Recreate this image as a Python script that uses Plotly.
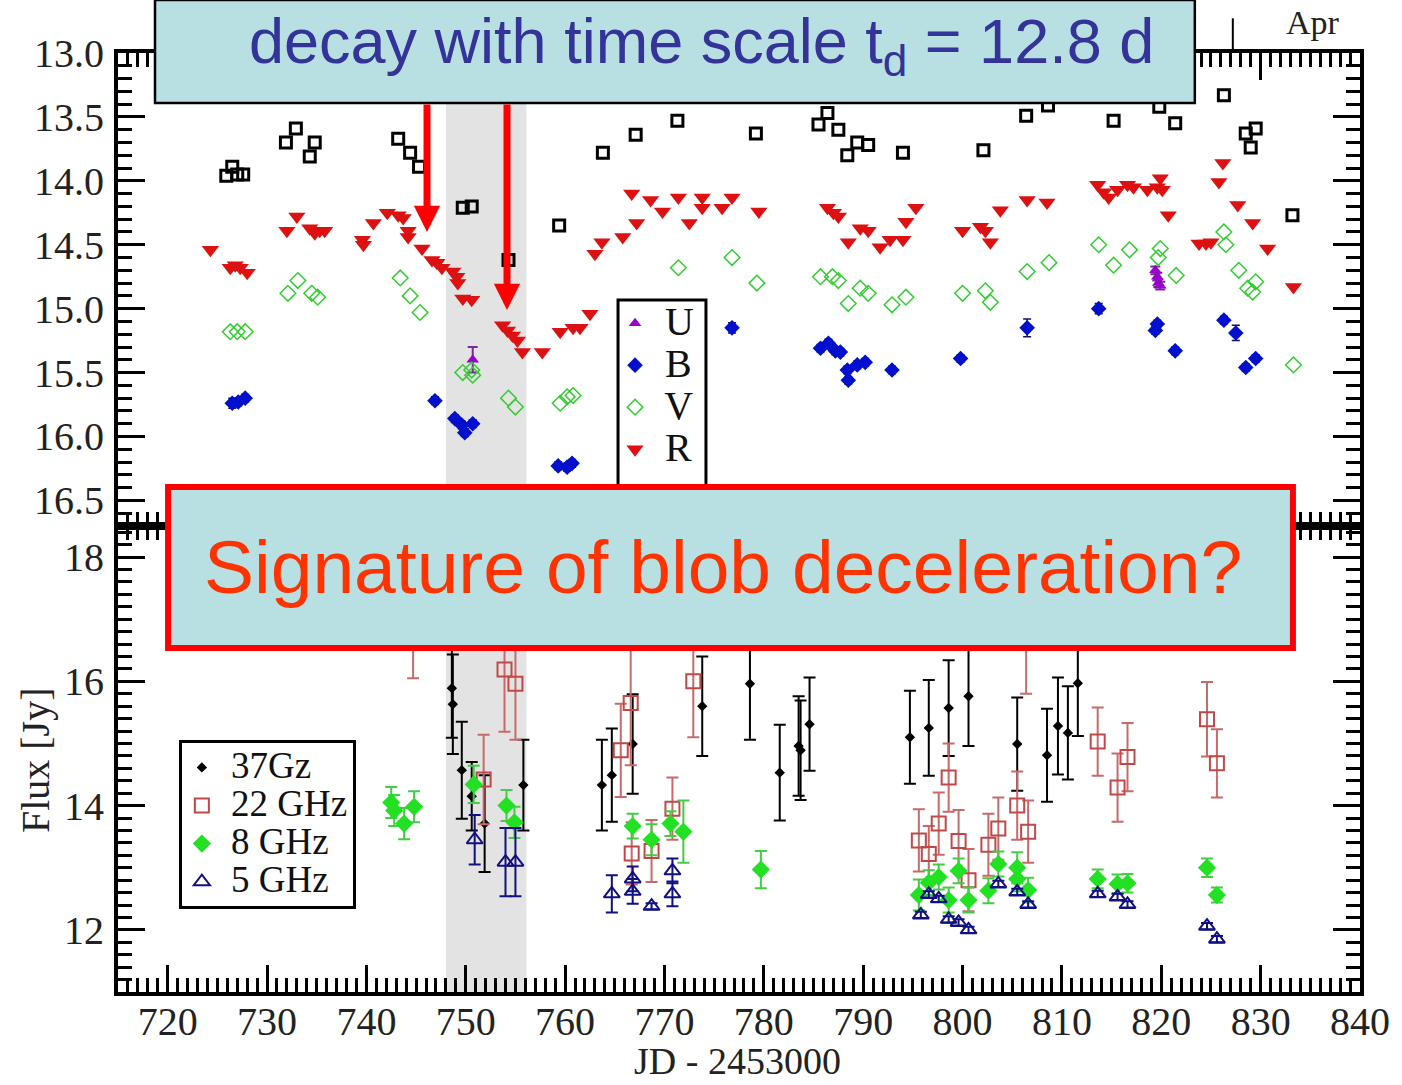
import plotly.graph_objects as go

# ---------------- optical (top panel, magnitudes) ----------------
I_x = [725.9, 726.5, 727.0, 727.6, 731.9, 732.9, 734.3, 734.8, 743.2, 744.4, 745.3, 749.7, 750.6, 754.3,
       759.4, 763.8, 767.1, 771.3, 779.2, 785.5, 786.4, 787.5, 788.4, 789.4, 790.5, 794.0, 802.1, 806.4,
       808.6, 815.2, 819.8, 821.4, 826.3, 828.5, 829.0, 829.5, 833.2]
I_mag = [13.96, 13.89, 13.95, 13.95, 13.70, 13.59, 13.81, 13.70, 13.67, 13.78, 13.89, 14.21, 14.20, 14.62,
         14.35, 13.78, 13.64, 13.53, 13.63, 13.56, 13.47, 13.60, 13.80, 13.70, 13.72, 13.78, 13.76, 13.49,
         13.41, 13.53, 13.42, 13.55, 13.33, 13.63, 13.74, 13.59, 14.27]

R_x = [724.3, 726.3, 726.8, 727.3, 728.0, 732.0, 733.0, 734.3, 734.8, 735.3, 735.8, 739.6, 739.7, 740.7,
       742.1, 743.2, 743.7, 744.2, 744.2, 745.6, 746.6, 747.1, 747.6, 748.7, 749.1, 749.2, 749.7, 750.6,
       753.7, 754.2, 754.7, 755.2, 755.7, 757.7, 759.5, 760.8, 761.5, 762.5, 763.0, 763.7, 765.8, 766.7,
       767.2, 768.6, 769.8, 771.4, 772.5, 773.8, 773.8, 775.8, 776.8, 779.5, 786.4, 787.0, 787.5, 788.5,
       789.7, 790.5, 791.7, 792.7, 794.0, 794.3, 795.3, 800.0, 801.8, 802.3, 802.8, 803.8, 806.5, 808.5,
       813.6, 814.2, 814.7, 815.6, 816.6, 817.2, 818.6, 819.6, 819.9, 820.1, 820.7, 823.8, 824.5, 825.0,
       825.8, 826.2, 827.7, 829.2, 830.7, 833.3]
R_mag = [14.54, 14.68, 14.66, 14.68, 14.72, 14.39, 14.28, 14.37, 14.41, 14.39, 14.39, 14.46, 14.50, 14.33,
         14.25, 14.27, 14.29, 14.39, 14.44, 14.53, 14.62, 14.64, 14.68, 14.71, 14.75, 14.80, 14.92, 14.93,
         15.13, 15.17, 15.21, 15.25, 15.34, 15.34, 15.18, 15.15, 15.15, 15.04, 14.57, 14.48, 14.44, 14.10,
         14.33, 14.15, 14.24, 14.13, 14.33, 14.13, 14.21, 14.21, 14.13, 14.24, 14.21, 14.25, 14.28, 14.48,
         14.37, 14.39, 14.52, 14.46, 14.46, 14.32, 14.21, 14.39, 14.36, 14.39, 14.48, 14.23, 14.15, 14.17,
         14.03, 14.09, 14.13, 14.07, 14.03, 14.05, 14.07, 14.05, 13.98, 14.07, 14.27, 14.49, 14.49, 14.48,
         14.01, 13.86, 14.19, 14.33, 14.53, 14.83]

V_x = [726.3, 727.0, 727.8, 732.1, 733.1, 734.5, 735.1, 743.4, 744.4, 745.4, 749.7, 750.6, 750.7, 754.3,
       755.0, 759.5, 760.2, 760.8, 771.4, 776.8, 779.3, 785.7, 786.9, 787.5, 788.5, 789.7, 790.5, 792.9,
       794.3, 800.0, 802.3, 802.8, 806.5, 808.7, 813.7, 815.2, 816.8, 819.7, 819.9, 821.5, 826.3, 826.5,
       827.8, 828.7, 829.2, 829.5, 833.3]
V_mag = [15.18, 15.18, 15.18, 14.88, 14.78, 14.88, 14.91, 14.76, 14.90, 15.03, 15.50, 15.48, 15.52, 15.70,
         15.77, 15.74, 15.69, 15.68, 14.68, 14.60, 14.80, 14.75, 14.75, 14.78, 14.96, 14.84, 14.88, 14.97,
         14.91, 14.88, 14.86, 14.95, 14.71, 14.64, 14.50, 14.66, 14.54, 14.60, 14.53, 14.74, 14.40, 14.50,
         14.70, 14.84, 14.87, 14.79, 15.44]

B_x = [726.5, 727.1, 727.8, 746.9, 748.9, 749.6, 749.9, 750.7, 759.3, 760.2, 760.7, 776.8, 785.7, 786.5,
       787.2, 787.7, 788.4, 788.5, 789.4, 790.2, 792.9, 799.8, 806.5, 813.7, 819.4, 819.6, 821.4, 826.3,
       827.5, 828.5, 829.5]
B_mag = [15.74, 15.73, 15.70, 15.72, 15.86, 15.91, 15.97, 15.90, 16.23, 16.24, 16.21, 15.15, 15.31, 15.27,
         15.33, 15.34, 15.48, 15.56, 15.44, 15.42, 15.48, 15.39, 15.15, 15.00, 15.17, 15.12, 15.33, 15.09,
         15.19, 15.46, 15.39]
B_err = [0.04, 0.03, 0.03, 0.03, 0.03, 0.03, 0.03, 0.03, 0.03, 0.03, 0.03, 0.04, 0.03, 0.03,
         0.03, 0.03, 0.03, 0.03, 0.03, 0.03, 0.03, 0.03, 0.07, 0.04, 0.03, 0.03, 0.03, 0.03,
         0.06, 0.03, 0.03]

U_x = [750.7, 819.4, 819.6, 819.7, 819.9]
U_mag = [15.40, 14.70, 14.75, 14.80, 14.82]
U_err = [0.10, 0.03, 0.03, 0.03, 0.03]

# ---------------- radio (bottom panel, flux in Jy) ----------------
F37_x = [748.6, 748.7, 749.6, 750.6, 751.9, 755.8, 763.7, 764.7, 766.8, 773.8, 778.6, 781.6, 783.5, 783.7,
         784.6, 794.7, 796.6, 798.6, 800.6, 805.5, 808.5, 809.6, 810.6, 811.6]
F37 = [15.89, 15.63, 14.57, 14.15, 13.71, 14.33, 14.33, 14.49, 14.99, 15.60, 15.96, 14.53, 14.96, 14.89,
       15.31, 15.10, 15.25, 15.57, 15.76, 14.99, 14.81, 15.28, 15.17, 15.97]
F37_err = [0.80, 0.80, 0.78, 0.55, 0.78, 0.73, 0.73, 0.75, 0.80, 0.80, 0.90, 0.77, 0.80, 0.80,
           0.75, 0.75, 0.77, 0.77, 0.80, 0.75, 0.75, 0.78, 0.75, 0.85]

F22_x = [744.7, 751.8, 753.9, 755.0, 765.6, 766.6, 766.7, 768.7, 770.8, 772.9, 795.6, 796.6, 797.6, 798.6,
         799.6, 800.6, 802.6, 803.6, 805.5, 806.4, 806.6, 813.6, 815.6, 816.6, 824.6, 825.6]
F22 = [17.0, 14.42, 16.19, 15.96, 14.89, 15.65, 13.23, 13.27, 13.95, 16.0, 13.44, 13.22, 13.71, 14.45,
       13.43, 12.80, 13.37, 13.63, 14.00, 16.9, 13.58, 15.03, 14.29, 14.78, 15.39, 14.68]
F22_err = [0.95, 0.72, 1.0, 0.9, 0.75, 1.0, 0.5, 0.5, 0.5, 0.9, 0.5, 0.45, 0.5, 0.55,
           0.5, 0.5, 0.5, 0.5, 0.55, 1.1, 0.5, 0.55, 0.55, 0.55, 0.6, 0.55]

F8_x = [742.5, 742.8, 743.8, 744.8, 750.8, 754.1, 754.9, 766.8, 768.7, 770.6, 771.9, 779.7, 795.6, 796.6,
        797.6, 798.6, 799.6, 800.6, 802.6, 803.6, 805.5, 805.5, 806.6, 813.6, 815.6, 816.6, 824.6, 825.6]
F8 = [14.05, 13.92, 13.71, 13.98, 14.34, 14.0, 13.73, 13.67, 13.45, 13.71, 13.58, 12.97, 12.56, 12.76,
      12.85, 12.48, 12.95, 12.48, 12.63, 13.06, 13.0, 12.82, 12.64, 12.82, 12.74, 12.75, 13.0, 12.56]
F8_err = [0.25, 0.25, 0.25, 0.25, 0.3, 0.25, 0.25, 0.2, 0.25, 0.2, 0.5, 0.3, 0.25, 0.2,
          0.2, 0.2, 0.2, 0.2, 0.2, 0.2, 0.25, 0.2, 0.2, 0.15, 0.15, 0.15, 0.15, 0.12]

F5_x = [750.9, 754.0, 755.0, 764.7, 766.8, 766.8, 768.7, 770.8, 770.8, 795.8, 796.6, 797.6, 798.6, 799.6,
        800.6, 803.6, 805.5, 806.6, 813.6, 815.6, 816.6, 824.6, 825.6]
F5 = [13.45, 13.09, 13.09, 12.58, 12.82, 12.62, 12.38, 12.95, 12.58, 12.24, 12.57, 12.50, 12.17, 12.12,
      12.00, 12.74, 12.61, 12.41, 12.58, 12.53, 12.41, 12.06, 11.85]
F5_err = [0.4, 0.55, 0.55, 0.3, 0.2, 0.2, 0.05, 0.2, 0.2, 0.05, 0.05, 0.05, 0.05, 0.05,
          0.05, 0.05, 0.05, 0.05, 0.05, 0.05, 0.05, 0.05, 0.05]

X_RANGE = [715, 840]
MAG_RANGE = [16.7, 13.0]
FLUX_RANGE = [11.0, 18.5]
BAND = [748.0, 756.1]

SERIF = "Liberation Serif, Times New Roman, serif"
SANS = "Liberation Sans, Arial, sans-serif"


def big(label, px):
    return '<span style="font-size:%dpx">%s</span>' % (px, label)


fig = go.Figure()


def eb(arr, color, th=2, w=5):
    return dict(type="data", array=arr, visible=True, color=color, thickness=th, width=w)


# top panel traces
fig.add_trace(go.Scatter(x=U_x, y=U_mag, mode="markers", name=big(" U", 40), xaxis="x2", yaxis="y2",
                         legend="legend",
                         marker=dict(symbol="triangle-up", size=11, color="#9900cc"),
                         error_y=eb(U_err, "#7a2a9a", 2, 5)))
fig.add_trace(go.Scatter(x=B_x, y=B_mag, mode="markers", name=big(" B", 40), xaxis="x2", yaxis="y2",
                         legend="legend",
                         marker=dict(symbol="diamond", size=12, color="#0010cc"),
                         error_y=eb(B_err, "#101060", 1.5, 4)))
fig.add_trace(go.Scatter(x=V_x, y=V_mag, mode="markers", name=big(" V", 40), xaxis="x2", yaxis="y2",
                         legend="legend",
                         marker=dict(symbol="diamond-open", size=12, color="#33cc33", line=dict(width=1.5))))
fig.add_trace(go.Scatter(x=R_x, y=R_mag, mode="markers", name=big(" R", 40), xaxis="x2", yaxis="y2",
                         legend="legend",
                         marker=dict(symbol="triangle-down", size=15, color="#dd1111")))
fig.add_trace(go.Scatter(x=I_x, y=I_mag, mode="markers", name="I", xaxis="x2", yaxis="y2",
                         showlegend=False,
                         marker=dict(symbol="square-open", size=11, color="black", line=dict(width=3))))

# bottom panel traces
fig.add_trace(go.Scatter(x=F37_x, y=F37, mode="markers", name=big(" 37Gz", 37), xaxis="x", yaxis="y",
                         legend="legend2",
                         marker=dict(symbol="diamond", size=8, color="black"),
                         error_y=eb(F37_err, "black", 2, 6)))
fig.add_trace(go.Scatter(x=F22_x, y=F22, mode="markers", name=big(" 22 GHz", 37), xaxis="x", yaxis="y",
                         legend="legend2",
                         marker=dict(symbol="square-open", size=14, color="#c04848", line=dict(width=2)),
                         error_y=eb(F22_err, "#c86a6a", 2, 6)))
fig.add_trace(go.Scatter(x=F8_x, y=F8, mode="markers", name=big(" 8 GHz", 37), xaxis="x", yaxis="y",
                         legend="legend2",
                         marker=dict(symbol="diamond", size=14, color="#22e022"),
                         error_y=eb(F8_err, "#44cc44", 2, 6)))
fig.add_trace(go.Scatter(x=F5_x, y=F5, mode="markers", name=big(" 5 GHz", 37), xaxis="x", yaxis="y",
                         legend="legend2",
                         marker=dict(symbol="triangle-up-open", size=14, color="#101080", line=dict(width=2)),
                         error_y=eb(F5_err, "#101080", 2, 6)))

tick_common = dict(ticks="inside", tickwidth=3, tickcolor="black", ticklen=27,
                   showline=True, linewidth=4, linecolor="black", mirror="allticks",
                   showgrid=False, zeroline=False,
                   tickfont=dict(family=SERIF, size=40, color="#222"))

H_SPLIT = 0.4963

fig.update_layout(
    width=1402, height=1085,
    margin=dict(l=118, r=42, t=53, b=93),
    paper_bgcolor="white", plot_bgcolor="white",
    showlegend=True,
    xaxis=dict(range=X_RANGE, domain=[0, 1], anchor="y", dtick=10, tick0=720,
               minor=dict(dtick=1, ticks="inside", ticklen=14, tickwidth=2.5, tickcolor="black"),
               ticklabelstandoff=-9, **tick_common),
    yaxis=dict(range=FLUX_RANGE, domain=[0, H_SPLIT], anchor="x", dtick=2, tick0=12,
               minor=dict(dtick=0.2, ticks="inside", ticklen=14, tickwidth=2.5, tickcolor="black"),
               ticklabelstandoff=2, **tick_common),
    xaxis2=dict(range=X_RANGE, domain=[0, 1], anchor="y2", matches="x", dtick=10, tick0=720,
                showticklabels=False,
                minor=dict(dtick=1, ticks="inside", ticklen=14, tickwidth=2.5, tickcolor="black"),
                **tick_common),
    yaxis2=dict(range=MAG_RANGE, domain=[H_SPLIT, 1], anchor="x2", dtick=0.5, tick0=13.0,
                tickformat=".1f",
                minor=dict(dtick=0.1, ticks="inside", ticklen=14, tickwidth=2.5, tickcolor="black"),
                ticklabelstandoff=2, **tick_common),
    legend=dict(x=0.4002, y=0.740, xanchor="left", yanchor="top", bgcolor="rgba(0,0,0,0)",
                borderwidth=0, font=dict(family=SERIF, size=30, color="#111"),
                itemwidth=30, tracegroupgap=0),
    legend2=dict(x=0.049, y=0.268, xanchor="left", yanchor="top", bgcolor="white",
                 bordercolor="black", borderwidth=3, font=dict(family=SERIF, size=27, color="#111"),
                 itemwidth=30, tracegroupgap=0),
)

shapes = [
    # grey shaded interval spanning both panels
    dict(type="rect", xref="x", yref="paper", x0=BAND[0], x1=BAND[1], y0=0, y1=1,
         fillcolor="#e3e3e3", line=dict(width=0), layer="below"),
    # 'Apr' month tick above top axis
    dict(type="line", xref="x", yref="paper", x0=827.2, x1=827.2, y0=1.0, y1=1.037,
         line=dict(color="black", width=2)),
    # frame of the optical legend (its lower part hidden by the red box)
    dict(type="rect", xref="paper", yref="paper", x0=0.4026, x1=0.4734, y0=0.492, y1=0.737,
         fillcolor="white", line=dict(color="black", width=3), layer="above"),
    # top annotation box
    dict(type="rect", xref="paper", yref="paper", x0=0.0298, x1=0.867, y0=0.9468, y1=1.0565,
         fillcolor="#b8dfe2", line=dict(color="black", width=2.5), layer="above"),
    # bottom annotation box
    dict(type="rect", xref="paper", yref="paper", x0=0.0403, x1=0.946, y0=0.3663, y1=0.5378,
         fillcolor="#b8dfe2", line=dict(color="#ff0000", width=6), layer="above"),
]
fig.update_layout(shapes=shapes)

annotations = [
    dict(xref="paper", yref="paper", x=0.470, y=1.0085, xanchor="center", yanchor="middle",
         text="decay with time scale t<sub>d</sub> = 12.8 d", showarrow=False,
         font=dict(family=SANS, size=63, color="#333399")),
    dict(xref="paper", yref="paper", x=0.487, y=0.4526, xanchor="center", yanchor="middle",
         text="Signature of blob deceleration?", showarrow=False,
         font=dict(family=SANS, size=75, color="#ff3300")),
    dict(xref="paper", yref="paper", x=0.2488, y=0.8094, ax=0, ay=-129, text="", showarrow=True,
         arrowhead=2, arrowsize=0.75, arrowwidth=7, arrowcolor="#ff0000"),
    dict(xref="paper", yref="paper", x=0.3132, y=0.7263, ax=0, ay=-207, text="", showarrow=True,
         arrowhead=2, arrowsize=0.75, arrowwidth=7, arrowcolor="#ff0000"),
    dict(xref="paper", yref="paper", x=0.962, y=1.033, xanchor="center", yanchor="middle",
         text="Apr", showarrow=False, font=dict(family=SERIF, size=34, color="#222")),
    dict(xref="paper", yref="paper", x=-0.0668, y=0.247, xanchor="center", yanchor="middle",
         text="Flux [Jy]", textangle=-90, showarrow=False, font=dict(family=SERIF, size=40, color="#222")),
    dict(xref="paper", yref="paper", x=0.4985, y=-0.0735, xanchor="center", yanchor="middle",
         text="JD - 2453000", showarrow=False, font=dict(family=SERIF, size=38, color="#222")),
]
fig.update_layout(annotations=annotations)

fig.write_html("out.html", config={"displayModeBar": False},
               post_script="document.body.style.margin='0px';")
